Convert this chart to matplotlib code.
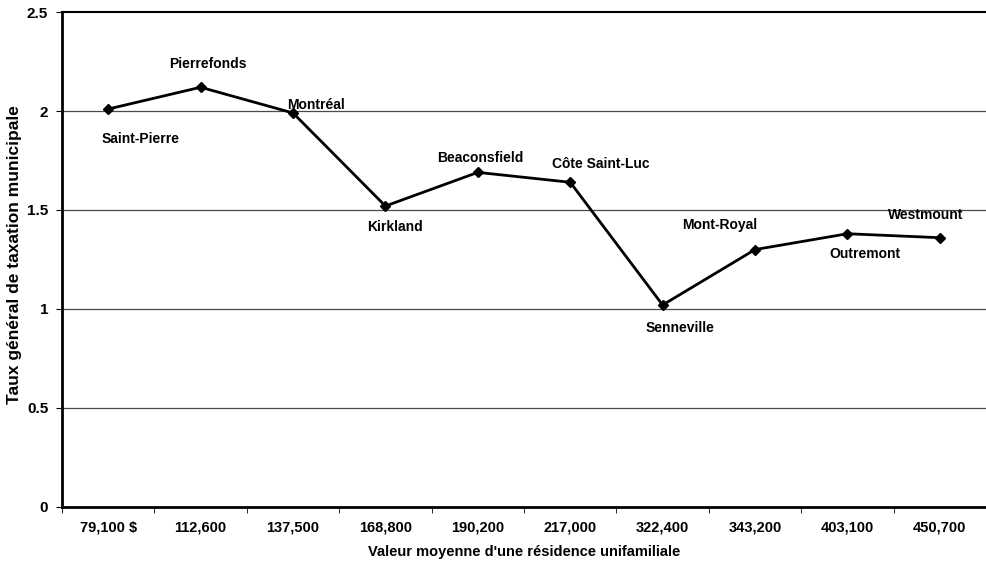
import matplotlib.pyplot as plt
import numpy as np

plt.rcParams['font.family'] = ['Liberation Sans', 'DejaVu Sans']
plt.rcParams['font.weight'] = 'bold'

valeurs = ['79,100 $', '112,600', '137,500', '168,800', '190,200',
           '217,000', '322,400', '343,200', '403,100', '450,700']
villes = ['Saint-Pierre', 'Pierrefonds', 'Montréal', 'Kirkland', 'Beaconsfield',
          'Côte Saint-Luc', 'Senneville', 'Mont-Royal', 'Outremont', 'Westmount']
taux = [2.01, 2.12, 1.99, 1.52, 1.69, 1.64, 1.02, 1.30, 1.38, 1.36]

# label offsets in pixels from each point
offsets = [(32, -30), (7, 23), (23, 8), (10, -21), (3, 14),
           (31, 18), (17, -23), (-35, 25), (18, -20), (-14, 23)]

fig = plt.figure(figsize=(9.86, 5.62), dpi=100)
ax = fig.add_axes([0.0629, 0.098, 0.9371, 0.8806])

x = np.arange(len(valeurs))
for yv in [0.5, 1, 1.5, 2]:
    ax.axhline(yv, color='#4a4a4a', lw=0.9, zorder=1)

ax.plot(x, taux, color='black', lw=2, marker='D', markersize=5.5, zorder=3)

for xi, yi, nom, (dx, dy) in zip(x, taux, villes, offsets):
    ax.annotate(nom, (xi, yi), xytext=(dx, dy), textcoords='offset pixels',
                ha='center', va='center', fontsize=10, fontweight='bold')

ax.set_xlim(-0.5, len(valeurs) - 0.5)
ax.set_ylim(0, 2.5)
ax.set_yticks([0, 0.5, 1, 1.5, 2, 2.5])
ax.set_yticklabels(['0', '0.5', '1', '1.5', '2', '2.5'])
ax.set_xticks(x)
ax.set_xticklabels(valeurs)
ax.set_xticks(np.arange(-0.5, len(valeurs)), minor=True)
ax.tick_params(axis='x', which='major', length=0, pad=10, labelsize=10.5)
ax.tick_params(axis='x', which='minor', length=4, direction='out')
ax.tick_params(axis='y', length=4, direction='out', labelsize=11, pad=6)

ax.spines['left'].set_linewidth(2)
ax.spines['bottom'].set_linewidth(2)
ax.spines['top'].set_linewidth(1.5)
ax.spines['right'].set_visible(False)

ax.set_xlabel("Valeur moyenne d'une résidence unifamiliale", fontsize=10.5,
              fontweight='bold', va='center')
ax.xaxis.set_label_coords(0.5, -0.091)
ax.set_ylabel('Taux général de taxation municipale', fontsize=12.5,
              fontweight='bold', va='center')
ax.yaxis.set_label_coords(-0.051, 0.51)

fig.savefig('out.png', dpi=100)
